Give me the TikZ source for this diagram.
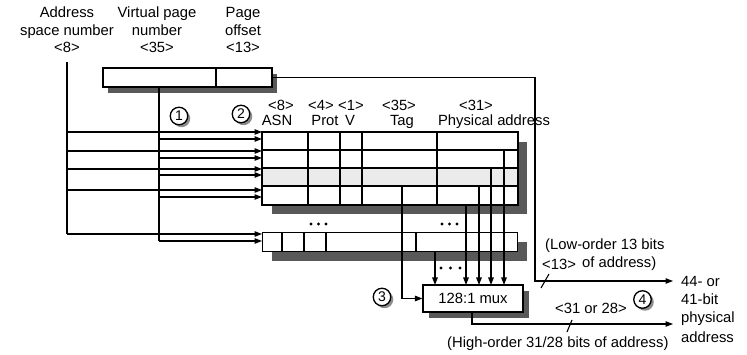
\documentclass[tikz,border=0pt]{standalone}
\usepackage{fontspec}
\setmainfont{Liberation Sans}
\usetikzlibrary{arrows.meta,calc}
\begin{document}
\begin{tikzpicture}[x=1pt,y=-1pt,
 lbl/.style={font=\fontsize{14.8}{17}\selectfont, inner sep=0pt, anchor=base},
 lblw/.style={lbl, anchor=base west},
 ln/.style={line width=1.1pt, draw=black},
 arr/.style={ln, -{Triangle[length=7.5pt,width=5.5pt]}},
 shd/.style={fill=black!65, draw=none},
 box/.style={ln, fill=white, rectangle, inner sep=0pt},
 num/.style={circle, draw=black, line width=1.3pt, fill=white, minimum size=17.5pt, inner sep=0pt, font=\fontsize{14}{14}\selectfont},
 numshd/.style={circle, fill=black!45, minimum size=17.5pt, inner sep=0pt, draw=none},
 dotm/.style={circle, fill=black, inner sep=0pt, minimum size=3.2pt},
]
\fill[white] (0,0) rectangle (747,355);
\useasboundingbox (0,0) rectangle (747,355);

% ---- top labels
\node[lbl] (l1a) at (67,18) {Address};
\node[lbl] (l1b) at (67,36) {space number};
\node[lbl] (l1c) at (67,53) {<8>};
\node[lbl] (l2a) at (157,18) {Virtual page};
\node[lbl] (l2b) at (157,36) {number};
\node[lbl] (l2c) at (157,53) {<35>};
\node[lbl] (l3a) at (243,18) {Page};
\node[lbl] (l3b) at (243,36) {offset};
\node[lbl] (l3c) at (243,53) {<13>};

% ---- virtual address register
\fill[shd] (108,74) rectangle (277,93);
\node[box, minimum width=169pt, minimum height=19pt] (va) at (187.5,77.5) {};
\draw[ln] (216,68) -- (216,87);

% ---- column labels
\node[lbl] (c8) at (281,111) {<8>};
\node[lbl] (casn) at (277,126) {ASN};
\node[lbl] (c4) at (321,111) {<4>};
\node[lbl] (cprot) at (325,126) {Prot};
\node[lbl] (c1b) at (351,111) {<1>};
\node[lbl] (cv) at (350,126) {V};
\node[lbl] (c35) at (399,111) {<35>};
\node[lbl] (ctag) at (402,126) {Tag};
\node[lbl] (c31) at (476,111) {<31>};
\node[lbl] (cpa) at (494,126) {Physical address};

% ---- step circles
\node[numshd] at (181.5,118.5) {};
\node[num] (n1) at (179,116) {1};
\node[numshd] at (243.5,116.5) {};
\node[num] (n2) at (241,114) {2};

% ---- TLB entries
\fill[shd] (272,142) rectangle (527,214);
\node[box, minimum width=255pt, minimum height=72pt, anchor=north west] (tlb) at (262,132) {};
\fill[black!8] (262,168) rectangle (517,186);
\foreach \yy in {150,168,186} \draw[ln] (262,\yy) -- (517,\yy);
\foreach \xx in {308,340,362,437} \draw[ln] (\xx,132) -- (\xx,204);
\draw[ln] (tlb.north west) rectangle (tlb.south east);

% ---- last TLB entry
\fill[shd] (272,242) rectangle (527,261);
\node[box, minimum width=255pt, minimum height=19pt, anchor=north west] (tlbn) at (262,232) {};
\foreach \xx in {282,304,326,416} \draw[ln] (\xx,232) -- (\xx,251);

% ---- dots
\foreach \xx in {311,318.5,326} \node[dotm] at (\xx,224) {};
\foreach \xx in {442,449.5,457} \node[dotm] at (\xx,224) {};
\foreach \xx in {441,450.5,460} \node[dotm] at (\xx,268) {};

% ---- mux
\fill[shd] (429,291) rectangle (529,318);
\node[box, minimum width=100pt, minimum height=27pt, font=\fontsize{14.8}{17}\selectfont] (mux) at (473,298.5) {128:1 mux};

% ---- address inputs to TLB
\coordinate (asnTop) at (67,62);
\draw[ln] (asnTop) -- (67,234);
\draw[ln] (159,87) -- (159,241);
\foreach \yy in {132,151,169,190,234} \draw[arr] (67,\yy) -- (262,\yy);
\foreach \yy in {139,158,175,197,241} \draw[arr] (159,\yy) -- (262,\yy);

% ---- tag compare / physical address lines to mux
\draw[arr] (402,186) -- (402,298.5) -- (mux.west);
\draw[arr] (435,251) -- (435,285);
\draw[arr] (466,204) -- (466,285);
\draw[arr] (479,186) -- (479,285);
\draw[arr] (491,168) -- (491,285);
\draw[arr] (504,150) -- (504,285);

\node[numshd] at (384.5,299.5) {};
\node[num] (n3) at (382,297) {3};

% ---- low-order bits (page offset)
\coordinate (lowEnd) at (673,281);
\draw[arr] (va.east) -- (535,77.5) -- (535,281) -- (lowEnd);
\draw[ln] (541,288) -- (549,274);
\node[lblw] (lo1) at (545,250) {(Low-order 13 bits};
\node[lblw] (lo2) at (582,268) {of address)};
\node[lblw] (lo3) at (542,270) {<13>};

% ---- high-order bits
\coordinate (highEnd) at (673,324);
\draw[arr] (472,312) -- (472,324) -- (highEnd);
\draw[ln] (567,332) -- (572,320);
\node[lblw] (hi1) at (555,313) {<31 or 28>};
\node[lblw] (hi2) at (447,348) {(High-order 31/28 bits of address)};

\node[numshd] at (645,302) {};
\node[num] (n4) at (642.5,299.5) {4};

% ---- result
\node[lblw] (r1) at (681,287) {44- or};
\node[lblw] (r2) at (681,305) {41-bit};
\node[lblw] (r3) at (681,323) {physical};
\node[lblw] (r4) at (681,342) {address};
\end{tikzpicture}
\end{document}
